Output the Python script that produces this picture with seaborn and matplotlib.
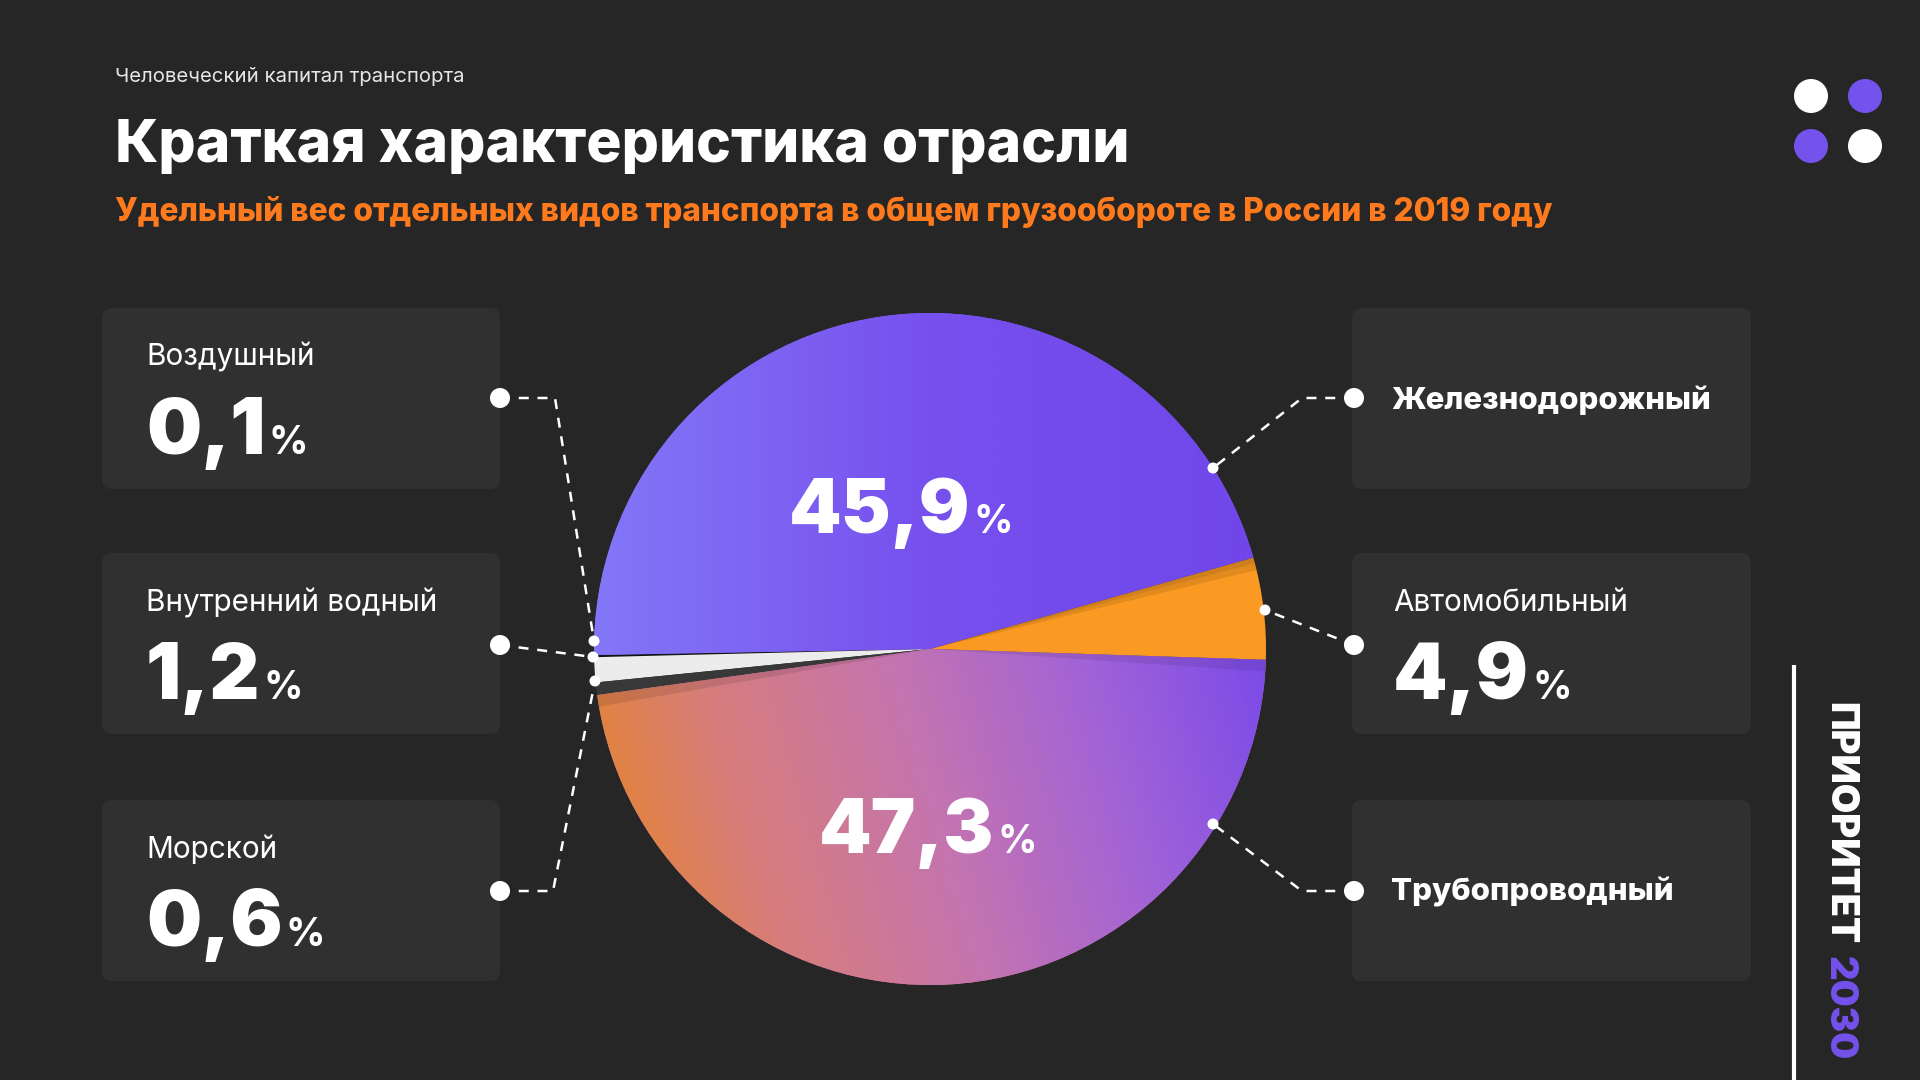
import matplotlib
matplotlib.use("Agg")
import matplotlib.pyplot as plt
from matplotlib.patches import FancyBboxPatch, Circle, Wedge
from matplotlib.colors import LinearSegmentedColormap
import numpy as np
import seaborn as sns

sns.set_theme(style="dark")
plt.rcParams['font.family'] = ['Inter', 'DejaVu Sans']

BG = '#262626'
BOX = '#303030'
PURPLE = '#7452ec'
ORANGE = '#ff7a1c'

# data (сектора против часовой, начиная с ж/д)
categories = ['Железнодорожный', 'Воздушный', 'Внутренний водный',
              'Морской', 'Трубопроводный', 'Автомобильный']
shares = [45.9, 0.1, 1.2, 0.6, 47.3, 4.9]
share_labels = ['45,9', '0,1', '1,2', '0,6', '47,3', '4,9']
slice_colors = ['#7a5cf0', '#141414', '#ececec', '#383838', '#c877a8', '#fb9a22']

left_items = ['Воздушный', 'Внутренний водный', 'Морской']
right_items = ['Железнодорожный', 'Автомобильный', 'Трубопроводный']
right_with_value = ['Автомобильный']

W, H = 1920, 1080
def Y(y):
    return H - y

fig = plt.figure(figsize=(19.2, 10.8), dpi=100, facecolor=BG)
ax = fig.add_axes([0, 0, 1, 1])
ax.set_facecolor(BG)

cx, cy, R = 930, 649, 336
wedges, _ = ax.pie(shares, colors=slice_colors, startangle=15.8, counterclock=True,
                   center=(cx, Y(cy)), radius=R, wedgeprops=dict(linewidth=0))

# градиенты для крупных секторов
grad_rail = LinearSegmentedColormap.from_list('rail', ['#8377f7', '#7750ee', '#7046e9'])
grad_pipe = LinearSegmentedColormap.from_list('pipe', ['#e8861a', '#d77d7c', '#c474b0', '#a062d8', '#7748ea'])
xs = np.linspace(0, 1, 400)[None, :]
ys = np.linspace(0, 1, 400)[:, None]
for w, cmap, img in [(wedges[0], grad_rail, xs + 0 * ys),
                     (wedges[4], grad_pipe, np.clip(0.85 * xs + 0.25 * (1 - ys), 0, 1))]:
    im = ax.imshow(img, cmap=cmap, extent=(cx - R, cx + R, Y(cy + R), Y(cy - R)),
                   origin='upper', aspect='auto', zorder=1.5, interpolation='bilinear')
    im.set_clip_path(w)

# лёгкие тени у границ секторов
t2 = wedges[5].theta2
ax.add_patch(Wedge((cx, Y(cy)), R, t2 - 2.2, t2, fc='#000000', alpha=0.10, ec='none', zorder=2))
ax.add_patch(Wedge((cx, Y(cy)), R, t2 - 1.0, t2, fc='#000000', alpha=0.08, ec='none', zorder=2))
p1 = wedges[4].theta1
ax.add_patch(Wedge((cx, Y(cy)), R, p1, p1 + 2.0, fc='#000000', alpha=0.10, ec='none', zorder=2))
p2 = wedges[4].theta2
ax.add_patch(Wedge((cx, Y(cy)), R, p2 - 2.0, p2, fc='#000000', alpha=0.08, ec='none', zorder=2))

ax.set_xlim(0, W)
ax.set_ylim(0, H)
ax.axis('off')

# карточки
card_tops = [308, 553, 800]
card_h = 181
for top in card_tops:
    for x0, x1 in [(102, 500), (1352, 1751)]:
        ax.add_patch(FancyBboxPatch((x0, Y(top + card_h)), x1 - x0, card_h,
                                    boxstyle='round,pad=0,rounding_size=10',
                                    fc=BOX, ec='none', zorder=1))


def fit(t, target_w):
    # подогнать кегль под ширину строки
    fig.canvas.draw()
    w = t.get_window_extent().width
    t.set_fontsize(t.get_fontsize() * target_w / w)
    return t


def big_pct(x, yb, num, size, psize):
    t = ax.text(x, Y(yb), num, fontsize=size, fontweight=900, color='white',
                ha='left', va='baseline', zorder=5)
    fig.canvas.draw()
    bb = t.get_window_extent()
    p = ax.text(bb.x1 + 3, Y(yb), '%', fontsize=psize, fontweight=700, color='white',
                ha='left', va='baseline', zorder=5)
    return t, p


value_of = dict(zip(categories, share_labels))

probe = ax.text(0, -100, 'Внутренний водный', fontsize=20, fontweight=400)
fit(probe, 292)
lab_size = probe.get_fontsize()
probe.remove()

for name, top in zip(left_items, card_tops):
    ax.text(146, Y(top + 58), name, fontsize=lab_size, color='white', ha='left', va='baseline')
    big_pct(146, top + 146, value_of[name], 56, 28)

for name, top in zip(right_items, card_tops):
    if name in right_with_value:
        ax.text(1393, Y(top + 58), name, fontsize=lab_size, color='white', ha='left', va='baseline')
        big_pct(1393, top + 146, value_of[name], 56, 28)
    else:
        t = ax.text(1391, Y(top + 92), name, fontsize=20, fontweight=800, color='white',
                    ha='left', va='center')
        fit(t, {'Железнодорожный': 320, 'Трубопроводный': 282}[name])

# проценты внутри пирога
for idx, (ctr_x, base_y) in zip([0, 4], [(901, 533), (928, 853)]):
    t, p = big_pct(0, base_y, share_labels[idx], 54, 28)
    fig.canvas.draw()
    total = p.get_window_extent().x1 - t.get_window_extent().x0
    shift = ctr_x - total / 2
    t.set_x(t.get_position()[0] + shift)
    p.set_x(p.get_position()[0] + shift)

# выноски
leaders = [
    [(500, 398), (555, 398), (594, 641)],
    [(500, 645), (593, 657)],
    [(500, 891), (553, 891), (595, 681)],
    [(1354, 398), (1302, 398), (1213, 468)],
    [(1354, 645), (1265, 610)],
    [(1354, 891), (1302, 891), (1213, 824)],
]
for pts in leaders:
    px = [p[0] for p in pts]
    py = [Y(p[1]) for p in pts]
    ax.plot(px, py, color='white', lw=1.8, dashes=(4, 3.5), zorder=6, solid_capstyle='butt')
    ax.add_patch(Circle((px[0], py[0]), 10, fc='white', ec='none', zorder=7))
    ax.add_patch(Circle((px[-1], py[-1]), 5.5, fc='white', ec='none', zorder=7))

# заголовки
t = ax.text(115, Y(77), 'Человеческий капитал транспорта', fontsize=13, fontweight=400,
            color='#e6e6e6', ha='left', va='center')
fit(t, 347)
t = ax.text(115, Y(162), 'Краткая характеристика отрасли', fontsize=40, fontweight=800,
            color='white', ha='left', va='baseline')
fit(t, 1014)
t = ax.text(115, Y(212), 'Удельный вес отдельных видов транспорта в общем грузообороте в России в 2019 году',
            fontsize=21, fontweight=800, color=ORANGE, ha='left', va='center')
fit(t, 1438)

# декоративные точки
for (dx, dy), col in zip([(1811, 96), (1865, 96), (1811, 146), (1865, 146)],
                         ['white', PURPLE, PURPLE, 'white']):
    ax.add_patch(Circle((dx, Y(dy)), 17, fc=col, ec='none', zorder=3))

# вертикальная линия и подпись
ax.plot([1794, 1794], [Y(665), Y(1080)], color='white', lw=3, solid_capstyle='butt')
t1 = ax.text(1839, Y(702), 'ПРИОРИТЕТ', fontsize=27, fontweight=900, color='white',
             ha='center', va='top')
fit(t1, 243)
t1.set_rotation(-90)
fig.canvas.draw()
bb = t1.get_window_extent()
ax.text(1839, bb.y0 - 12, '2030', fontsize=t1.get_fontsize(), fontweight=900, color=PURPLE,
        rotation=-90, ha='center', va='top')

fig.savefig('out.png', dpi=100, facecolor=BG)
